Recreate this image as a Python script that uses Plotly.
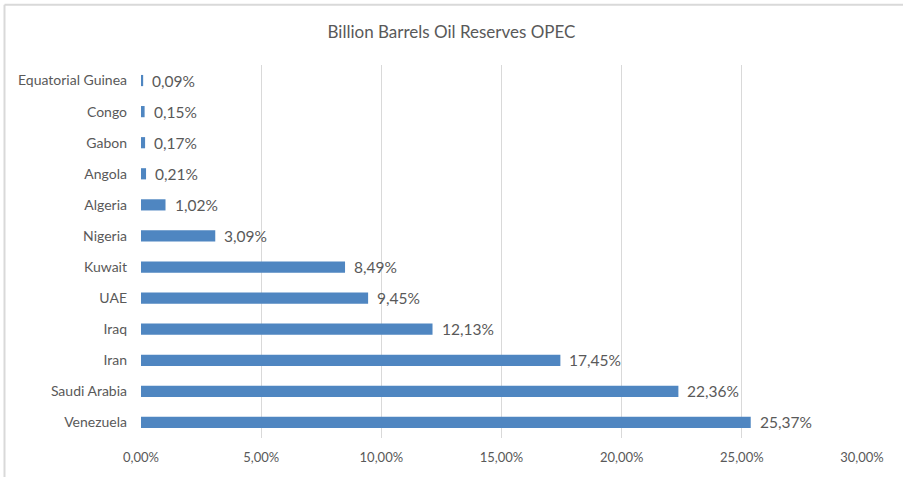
import plotly.graph_objects as go

# OPEC share of oil reserves (%), bottom to top
countries = ["Venezuela", "Saudi Arabia", "Iran", "Iraq", "UAE", "Kuwait",
             "Nigeria", "Algeria", "Angola", "Gabon", "Congo", "Equatorial Guinea"]
shares = [25.37, 22.36, 17.45, 12.13, 9.45, 8.49, 3.09, 1.02, 0.21, 0.17, 0.15, 0.09]
x_ticks = [0, 5, 10, 15, 20, 25, 30]

values = [s / 100 for s in shares]
text_color = "#595959"
font_family = "Lato, 'Open Sans', sans-serif"

fig = go.Figure(go.Bar(
    x=values,
    y=countries,
    orientation="h",
    width=0.36,
    marker=dict(color="#4F86C1", line=dict(width=0)),
    hoverinfo="skip",
))

# value labels to the right of each bar
for c, v, s in zip(countries, values, shares):
    fig.add_annotation(
        x=v, y=c, xref="x", yref="y",
        text=f"{s:.2f}%".replace(".", ","),
        showarrow=False, xanchor="left", xshift=7,
        font=dict(family=font_family, size=15.5, color=text_color),
    )

# chart frame (runs off the right and bottom edges)
frame = dict(type="line", xref="paper", yref="paper",
             line=dict(color="#D9D9D9", width=2))
fig.add_shape(**frame, x0=-0.1893, x1=-0.1893, y0=-0.3, y1=1.1613)
fig.add_shape(**frame, x0=-0.1893, x1=1.3, y0=1.1613, y1=1.1613)

fig.update_layout(
    width=903, height=477,
    margin=dict(l=141, r=41, t=65, b=37),
    paper_bgcolor="white",
    plot_bgcolor="white",
    separators=",.",
    showlegend=False,
    title=dict(text="Billion Barrels Oil Reserves OPEC", x=0.5, xanchor="center",
               y=1 - 32 / 477, yanchor="middle",
               font=dict(family=font_family, size=17, color=text_color)),
    font=dict(family=font_family, color=text_color),
    xaxis=dict(
        range=[0, 0.30],
        tickvals=[t / 100 for t in x_ticks],
        tickformat=".2%",
        showgrid=True, gridcolor="#D9D9D9", gridwidth=1,
        zeroline=False, showline=False,
        tickfont=dict(size=13, color=text_color),
        ticklabelstandoff=10,
        fixedrange=True,
    ),
    yaxis=dict(
        categoryorder="array", categoryarray=countries,
        showgrid=False, zeroline=False, showline=False,
        tickfont=dict(size=14, color=text_color),
        ticklabelstandoff=13,
        fixedrange=True,
    ),
)

fig.write_html("out.html")
